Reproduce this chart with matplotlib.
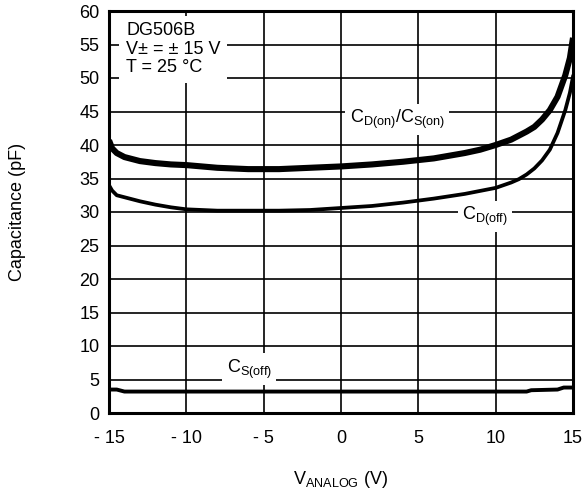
import matplotlib
matplotlib.use("Agg")
import matplotlib.pyplot as plt

plt.rcParams['font.family'] = ['Liberation Sans', 'DejaVu Sans']
plt.rcParams['mathtext.fontset'] = 'custom'
plt.rcParams['mathtext.rm'] = 'Liberation Sans'
plt.rcParams['mathtext.it'] = 'Liberation Sans'

# Data
v_on = [-15, -14.8, -14.5, -14, -13, -12, -11, -10, -8, -6, -4, -2, 0, 2, 4, 6, 8, 9, 10, 11, 12, 12.5, 13, 13.5, 14, 14.5, 14.8, 15]
c_on = [40.7, 39.5, 38.8, 38.2, 37.6, 37.3, 37.1, 37.0, 36.6, 36.4, 36.4, 36.6, 36.8, 37.1, 37.5, 38.0, 38.8, 39.3, 40.0, 40.8, 42.0, 42.7, 43.8, 45.2, 47.2, 50.4, 53.0, 56.0]

v_doff = [-15, -14.8, -14.5, -14, -13, -12, -11, -10, -8, -6, -4, -2, 0, 2, 4, 6, 8, 10, 11, 11.5, 12, 12.5, 13, 13.5, 14, 14.5, 14.8, 15]
c_doff = [34.0, 33.2, 32.5, 32.2, 31.6, 31.1, 30.7, 30.4, 30.2, 30.2, 30.2, 30.3, 30.6, 30.9, 31.4, 32.0, 32.7, 33.6, 34.4, 34.9, 35.6, 36.5, 37.7, 39.3, 41.8, 45.2, 47.8, 50.2]

v_soff = [-15, -14.5, -14, -10, -5, 0, 5, 10, 12, 12.3, 14, 14.4, 15]
c_soff = [3.5, 3.5, 3.2, 3.2, 3.2, 3.2, 3.2, 3.2, 3.2, 3.4, 3.5, 3.8, 3.8]

xticks = [-15, -10, -5, 0, 5, 10, 15]
xticklabels = ['- 15', '- 10', '- 5', '0', '5', '10', '15']
yticks = list(range(0, 61, 5))

FS = 13

fig = plt.figure(figsize=(5.84, 4.97), dpi=100)
ax = fig.add_axes([109/584, 84/497, 464/584, 402/497])

ax.plot(v_on, c_on, color='black', lw=4.4, solid_capstyle='butt', zorder=3)
ax.plot(v_doff, c_doff, color='black', lw=2.7, zorder=3)
ax.plot(v_soff, c_soff, color='black', lw=2.8, zorder=3)

ax.set_xlim(-15, 15)
ax.set_ylim(0, 60)
ax.set_xticks(xticks)
ax.set_xticklabels(xticklabels)
ax.set_yticks(yticks)
ax.tick_params(axis='x', length=0, labelsize=FS, pad=12)
ax.tick_params(axis='y', length=0, labelsize=FS, pad=7)
ax.grid(True, color='black', lw=1.2)
ax.set_axisbelow(True)
for s in ax.spines.values():
    s.set_linewidth(2.2)

ax.set_xlabel(r'$\mathregular{V_{ANALOG}}$ (V)', fontsize=FS, labelpad=16)
ax.set_ylabel('Capacitance (pF)', fontsize=FS, labelpad=38)

box = dict(facecolor='white', edgecolor='none', pad=3)
ax.text(-13.9, 58.3, 'DG506B\nV\u00b1 = \u00b1 15 V\nT = 25 \u00b0C', fontsize=FS, va='top', ha='left',
        linespacing=1.1, bbox=dict(facecolor='white', edgecolor='none', pad=5), zorder=2)
ax.text(0.55, 43.3, r'$\mathregular{C_{D(on)}/C_{S(on)}}$', fontsize=FS, ha='left', va='baseline', bbox=box, zorder=2)
ax.text(7.85, 28.8, r'$\mathregular{C_{D(off)}}$', fontsize=FS, ha='left', va='baseline', bbox=box, zorder=2)
ax.text(-7.4, 6.0, r'$\mathregular{C_{S(off)}}$', fontsize=FS, ha='left', va='baseline', bbox=box, zorder=2)

fig.savefig('out.png', dpi=100)
